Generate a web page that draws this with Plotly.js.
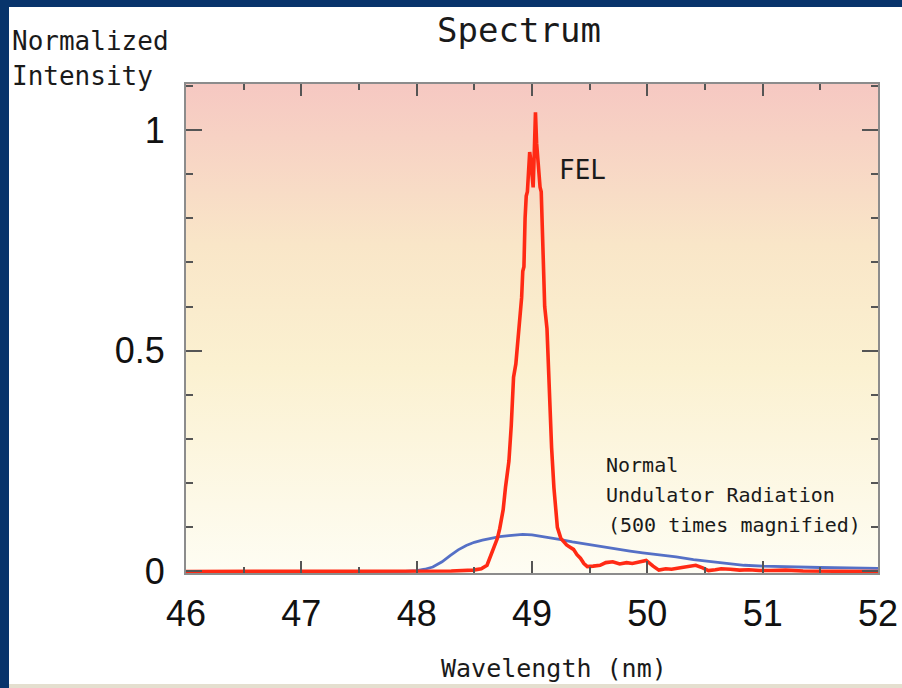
<!DOCTYPE html>
<html>
<head>
<meta charset="utf-8">
<script src="https://cdn.plot.ly/plotly-3.0.1.min.js"></script>
<style>
  html, body { margin: 0; padding: 0; width: 902px; height: 688px; overflow: hidden; background: #08346b; }
  #panel { position: absolute; left: 9px; top: 7px; width: 893px; height: 677px; background: #ffffff; }
  #foot { position: absolute; left: 9px; top: 684px; width: 893px; height: 4px; background: #e4dfcf; }
  #chart { position: absolute; left: 0; top: 0; width: 902px; height: 688px; }
</style>
</head>
<body>
<div id="panel"></div>
<div id="foot"></div>
<div id="chart"></div>
<script>
// FEL spectrum (normalized intensity) vs wavelength (nm)
const felWavelength = [46.00, 46.50, 47.00, 47.50, 48.00, 48.30, 48.49, 48.56, 48.61, 48.64,
  48.66, 48.68, 48.70, 48.72, 48.75, 48.77, 48.78, 48.80, 48.82, 48.83,
  48.84, 48.86, 48.88, 48.90, 48.91, 48.92, 48.93, 48.94, 48.95, 48.96,
  48.97, 48.98, 48.99, 49.00, 49.01, 49.02, 49.03, 49.04, 49.05, 49.06,
  49.07, 49.08, 49.09, 49.10, 49.11, 49.13, 49.15, 49.17, 49.19, 49.20,
  49.22, 49.25, 49.28, 49.30, 49.33, 49.36, 49.39, 49.42, 49.45, 49.48,
  49.53, 49.59, 49.64, 49.70, 49.76, 49.82, 49.87, 49.93, 49.99, 50.05,
  50.10, 50.16, 50.21, 50.30, 50.36, 50.42, 50.48, 50.53, 50.59, 50.64,
  50.72, 50.80, 50.88, 50.97, 51.07, 51.20, 51.35, 51.50, 51.70, 52.00];
const felIntensity = [0, 0, 0, 0, 0, 0.001, 0.003, 0.006, 0.014, 0.035,
  0.050, 0.062, 0.075, 0.097, 0.140, 0.190, 0.210, 0.250, 0.330, 0.390,
  0.440, 0.470, 0.530, 0.590, 0.620, 0.680, 0.690, 0.800, 0.850, 0.860,
  0.920, 0.950, 0.930, 0.890, 0.870, 0.950, 1.040, 0.970, 0.930, 0.880,
  0.870, 0.860, 0.780, 0.660, 0.600, 0.550, 0.410, 0.280, 0.190, 0.165,
  0.100, 0.075, 0.066, 0.060, 0.055, 0.050, 0.038, 0.030, 0.018, 0.011,
  0.012, 0.014, 0.020, 0.022, 0.017, 0.020, 0.018, 0.021, 0.025, 0.012,
  0.003, 0.006, 0.005, 0.009, 0.012, 0.014, 0.008, 0.002, 0.004, 0.006,
  0.005, 0.003, 0.004, 0.002, 0.002, 0.003, 0.001, 0.001, 0.000, 0.000];

// Normal undulator radiation (500 times magnified)
const nurWavelength = [46.00, 47.00, 47.90, 48.00, 48.07, 48.14, 48.22, 48.29, 48.36, 48.43,
  48.50, 48.57, 48.65, 48.72, 48.80, 48.86, 48.92, 49.00, 49.08, 49.16,
  49.25, 49.35, 49.44, 49.55, 49.64, 49.73, 49.85, 49.96, 50.10, 50.25,
  50.40, 50.55, 50.70, 50.84, 51.00, 51.13, 51.30, 51.50, 51.75, 52.00];
const nurIntensity = [0, 0, 0, 0.002, 0.005, 0.010, 0.022, 0.036, 0.049, 0.059,
  0.066, 0.071, 0.075, 0.079, 0.081, 0.083, 0.084, 0.083, 0.080, 0.076,
  0.072, 0.067, 0.063, 0.058, 0.054, 0.051, 0.046, 0.042, 0.038, 0.033,
  0.027, 0.022, 0.017, 0.014, 0.012, 0.011, 0.010, 0.009, 0.008, 0.007];

const xTickValues = [46, 47, 48, 49, 50, 51, 52];
const xTickLabels = ["46", "47", "48", "49", "50", "51", "52"];
const yTickValues = [0, 0.5, 1];
const yTickLabels = ["0", "0.5", "1"];

const mono = "DejaVu Sans Mono, Liberation Mono, monospace";
const sans = "Liberation Sans, Arial, sans-serif";

const gradSvg = '<svg xmlns="http://www.w3.org/2000/svg" width="10" height="100" preserveAspectRatio="none">' +
  '<defs><linearGradient id="g" x1="0" y1="0" x2="0" y2="1">' +
  '<stop offset="0" stop-color="#f6c8c2"/>' +
  '<stop offset="0.33" stop-color="#f9e6c8"/>' +
  '<stop offset="0.58" stop-color="#fbf1d1"/>' +
  '<stop offset="1" stop-color="#fefdf3"/>' +
  '</linearGradient></defs><rect width="10" height="100" fill="url(#g)"/></svg>';
const gradUrl = 'data:image/svg+xml;base64,' + btoa(gradSvg);

const traces = [
  { x: nurWavelength, y: nurIntensity, type: 'scatter', mode: 'lines',
    line: { color: '#5570c6', width: 2.8 }, hoverinfo: 'x+y', showlegend: false },
  { x: felWavelength, y: felIntensity, type: 'scatter', mode: 'lines',
    line: { color: '#ff2a14', width: 3.6 }, hoverinfo: 'x+y', showlegend: false }
];

const axisCommon = {
  showgrid: false, zeroline: false, showline: true, linecolor: '#8c8c8c', linewidth: 2,
  mirror: 'ticks', ticks: 'inside', tickcolor: '#555555', tickwidth: 2,
  tickfont: { family: sans, size: 36, color: '#111111' }
};

const layout = {
  width: 902, height: 688,
  margin: { l: 186, r: 24, t: 84, b: 115 },
  paper_bgcolor: 'rgba(0,0,0,0)',
  plot_bgcolor: 'rgba(0,0,0,0)',
  title: { text: 'Spectrum', font: { family: mono, size: 34, color: '#1a1a1a' },
    xref: 'container', yref: 'container', x: 519 / 902, y: 1 - 30 / 688,
    xanchor: 'center', yanchor: 'middle' },
  xaxis: Object.assign({}, axisCommon, {
    range: [46, 52], tickvals: xTickValues, ticktext: xTickLabels, ticklen: 12,
    minor: { dtick: 0.5, ticklen: 6, ticks: 'inside', tickcolor: '#555555', tickwidth: 2 },
    ticklabelstandoff: 8
  }),
  yaxis: Object.assign({}, axisCommon, {
    range: [-0.0035, 1.104], tickvals: yTickValues, ticktext: yTickLabels, ticklen: 16,
    minor: { dtick: 0.1, ticklen: 7, ticks: 'inside', tickcolor: '#555555', tickwidth: 2 },
    ticklabelstandoff: 12
  }),
  images: [{ source: gradUrl, xref: 'paper', yref: 'paper', x: 0, y: 1, sizex: 1, sizey: 1,
    xanchor: 'left', yanchor: 'top', sizing: 'stretch', layer: 'below' }],
  annotations: [
    { text: 'Normalized', xref: 'paper', yref: 'paper', x: (10 - 186) / 692, y: (573 - 41) / 489,
      xanchor: 'left', yanchor: 'middle', showarrow: false, font: { family: mono, size: 26, color: '#1a1a1a' } },
    { text: 'Intensity', xref: 'paper', yref: 'paper', x: (10 - 186) / 692, y: (573 - 76) / 489,
      xanchor: 'left', yanchor: 'middle', showarrow: false, font: { family: mono, size: 26, color: '#1a1a1a' } },
    { text: 'Wavelength (nm)', xref: 'paper', yref: 'paper', x: (554 - 186) / 692, y: (573 - 668) / 489,
      xanchor: 'center', yanchor: 'middle', showarrow: false, font: { family: mono, size: 25, color: '#1a1a1a' } },
    { text: 'FEL', xref: 'paper', yref: 'paper', x: (557 - 186) / 692, y: (573 - 170) / 489,
      xanchor: 'left', yanchor: 'middle', showarrow: false, font: { family: mono, size: 26, color: '#1a1a1a' } },
    { text: 'Normal', xref: 'paper', yref: 'paper', x: (604 - 186) / 692, y: (573 - 465) / 489,
      xanchor: 'left', yanchor: 'middle', showarrow: false, font: { family: mono, size: 20, color: '#1a1a1a' } },
    { text: 'Undulator Radiation', xref: 'paper', yref: 'paper', x: (604 - 186) / 692, y: (573 - 495) / 489,
      xanchor: 'left', yanchor: 'middle', showarrow: false, font: { family: mono, size: 20, color: '#1a1a1a' } },
    { text: '(500 times magnified)', xref: 'paper', yref: 'paper', x: (606 - 186) / 692, y: (573 - 525) / 489,
      xanchor: 'left', yanchor: 'middle', showarrow: false, font: { family: mono, size: 20, color: '#1a1a1a' } }
  ]
};

Plotly.newPlot('chart', traces, layout, { displayModeBar: false, staticPlot: true });
</script>
</body>
</html>
